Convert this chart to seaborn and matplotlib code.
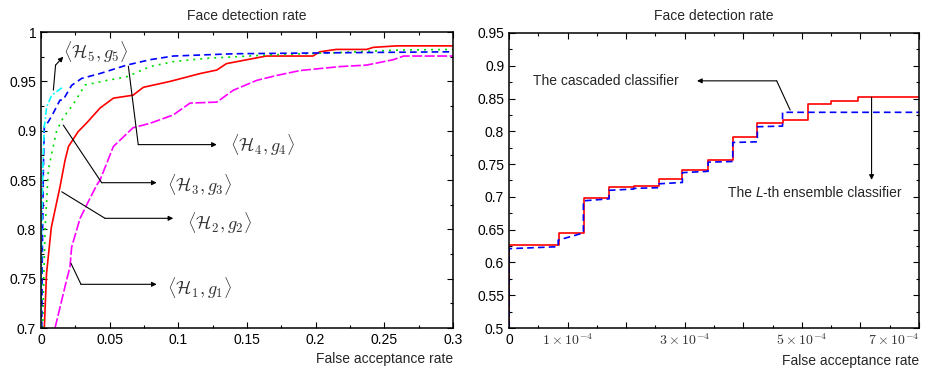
import matplotlib
matplotlib.use('Agg')
import matplotlib.pyplot as plt
import seaborn as sns
import pandas as pd
import numpy as np
from matplotlib.ticker import FixedLocator
from matplotlib.transforms import offset_copy

# left panel: ROC curves of the five stages
g1_x = [0.0102, 0.0187, 0.0211, 0.0223, 0.0284, 0.0344, 0.0406, 0.043, 0.0527, 0.067, 0.0794,
        0.0963, 0.1085, 0.128, 0.14, 0.157, 0.1716, 0.1886, 0.203, 0.2177, 0.237, 0.2566, 0.264, 0.3]
g1_y = [0.7, 0.749, 0.762, 0.782, 0.811, 0.828, 0.845, 0.85, 0.884, 0.903, 0.9075,
        0.916, 0.928, 0.929, 0.941, 0.951, 0.956, 0.961, 0.963, 0.965, 0.9665, 0.972, 0.9757, 0.9757]
g2_x = [0.0024, 0.004, 0.0075, 0.0138, 0.0175, 0.02, 0.027, 0.033, 0.043, 0.0527, 0.067, 0.0745,
        0.094, 0.116, 0.128, 0.135, 0.164, 0.198, 0.203, 0.215, 0.237, 0.242, 0.259, 0.3]
g2_y = [0.7, 0.755, 0.802, 0.843, 0.87, 0.884, 0.899, 0.9075, 0.923, 0.933, 0.936, 0.944,
        0.95, 0.958, 0.9615, 0.968, 0.9757, 0.9757, 0.98, 0.9824, 0.9824, 0.9845, 0.986, 0.986]
g3_x = [0.0012, 0.002, 0.003, 0.004, 0.0053, 0.0078, 0.0114, 0.0163, 0.0236, 0.032, 0.048,
        0.0624, 0.0794, 0.0963, 0.12, 0.164, 0.213, 0.261, 0.3]
g3_y = [0.7, 0.75, 0.801, 0.826, 0.86, 0.877, 0.9, 0.9135, 0.927, 0.9463, 0.951,
        0.9547, 0.965, 0.970, 0.9733, 0.9767, 0.979, 0.9818, 0.9824]
g4_x = [0.0005, 0.001, 0.0017, 0.0024, 0.0053, 0.009, 0.0138, 0.016, 0.0223, 0.0296, 0.043,
        0.0624, 0.0794, 0.0963, 0.14, 0.213, 0.3]
g4_y = [0.7, 0.78, 0.86, 0.904, 0.909, 0.918, 0.931, 0.931, 0.946, 0.953, 0.958,
        0.9665, 0.972, 0.9757, 0.978, 0.979, 0.980]
g5_x = [0.0, 0.0005, 0.0015, 0.0024, 0.0041, 0.0078, 0.0163]
g5_y = [0.7, 0.8, 0.87, 0.904, 0.9243, 0.936, 0.9446]

left_xticks = [0, 0.05, 0.1, 0.15, 0.2, 0.25, 0.3]
left_xlabels = ['0', '0.05', '0.1', '0.15', '0.2', '0.25', '0.3']
left_yticks = [0.7, 0.75, 0.8, 0.85, 0.9, 0.95, 1.0]
left_ylabels = ['0.7', '0.75', '0.8', '0.85', '0.9', '0.95', '1']

# right panel: ensemble vs cascade (x in units of 1e-4)
ens_x = [0, 0, 0.86, 1.28, 1.71, 2.13, 2.56, 2.96, 3.40, 3.82, 4.24, 4.67, 5.10, 5.50, 5.95, 7.0]
ens_y = [0.5, 0.627, 0.645, 0.698, 0.715, 0.717, 0.727, 0.741, 0.757, 0.791, 0.813, 0.817,
         0.842, 0.846, 0.852, 0.852]
cas_x = [0, 0, 0.84, 0.84, 1.27, 1.27, 1.71, 1.71, 2.13, 2.13, 2.56, 2.56, 2.96, 2.96, 3.40,
         3.40, 3.82, 3.82, 4.24, 4.24, 4.67, 4.67, 7.0]
cas_y = [0.5, 0.621, 0.624, 0.634, 0.645, 0.694, 0.697, 0.710, 0.712, 0.713, 0.714, 0.720,
         0.722, 0.737, 0.739, 0.753, 0.754, 0.783, 0.784, 0.807, 0.808, 0.829, 0.829]

right_xticks = [0, 1, 2, 3, 4, 5, 6, 7]
right_xlabels = ['0', r'$1\times10^{-4}$', '', r'$3\times10^{-4}$', '',
                 r'$5\times10^{-4}$', '', r'$7\times10^{-4}$']
right_yticks = [0.5, 0.55, 0.6, 0.65, 0.7, 0.75, 0.8, 0.85, 0.9, 0.95]
right_ylabels = ['0.5', '0.55', '0.6', '0.65', '0.7', '0.75', '0.8', '0.85', '0.9', '0.95']

sns.set_theme(style='ticks')
plt.rcParams['font.family'] = ['Liberation Sans', 'DejaVu Sans']
plt.rcParams['mathtext.fontset'] = 'cm'
plt.rcParams['axes.linewidth'] = 1.1
plt.rcParams['xtick.direction'] = 'in'
plt.rcParams['ytick.direction'] = 'in'

fig = plt.figure(figsize=(9.3, 3.69), dpi=100)
ax1 = fig.add_axes([0.0441, 0.1111, 0.443, 0.802])
ax2 = fig.add_axes([0.5473, 0.1111, 0.4409, 0.7995])


def style_axes(ax, xt, xl, yt, yl, xscale=1.0):
    xt = np.array(xt) * xscale
    ax.xaxis.set_major_locator(FixedLocator(xt))
    ax.xaxis.set_minor_locator(FixedLocator((xt[:-1] + xt[1:]) / 2))
    ax.yaxis.set_major_locator(FixedLocator(yt))
    ax.yaxis.set_minor_locator(FixedLocator((np.array(yt[:-1]) + np.array(yt[1:])) / 2))
    ax.set_xticklabels(xl)
    ax.set_yticklabels(yl)
    ax.set_xlim(xt[0], xt[-1])
    ax.set_ylim(yt[0], yt[-1])
    ax.tick_params(which='both', top=True, right=True, labelsize=10, colors='black', width=0.8)
    ax.tick_params(which='major', length=4)
    ax.tick_params(which='minor', length=2)
    for s in ax.spines.values():
        s.set_color('black')
    ax.set_title('Face detection rate', fontsize=10, pad=9)
    ax.set_xlabel('False acceptance rate', fontsize=10, loc='right', labelpad=4)
    ax.set_ylabel('')


lw = 1.2
curves = [
    (g1_x, g1_y, '#ff00ff', (6, 1.5)),
    (g2_x, g2_y, '#ff0000', None),
    (g3_x, g3_y, '#00dd00', (1.2, 3)),
    (g4_x, g4_y, '#0000ff', (4, 2.5)),
    (g5_x, g5_y, '#00ffff', (4, 1.5, 1, 1.5)),
]
for xs, ys, c, d in curves:
    df = pd.DataFrame({'x': xs, 'y': ys})
    sns.lineplot(data=df, x='x', y='y', ax=ax1, color=c, lw=lw, estimator=None, sort=False)
    if d is not None:
        ax1.lines[-1].set_dashes(d)

style_axes(ax1, left_xticks, left_xlabels, left_yticks, left_ylabels)

arrow_kw = dict(arrowstyle='-|>', color='black', lw=0.8, mutation_scale=7,
                shrinkA=0, shrinkB=0)
math_col = '#333333'
labels = [
    (r'$\langle\mathcal{H}_5, g_5\rangle$', [(0.009, 0.9412), (0.0106, 0.9665)], (0.0162, 0.975), (0.0162, 0.98)),
    (r'$\langle\mathcal{H}_4, g_4\rangle$', [(0.0636, 0.9654), (0.0708, 0.8859)], (0.128, 0.8859), (0.1376, 0.8855)),
    (r'$\langle\mathcal{H}_3, g_3\rangle$', [(0.0162, 0.9057), (0.0442, 0.8473)], (0.0842, 0.8473), (0.0915, 0.845)),
    (r'$\langle\mathcal{H}_2, g_2\rangle$', [(0.0151, 0.8381), (0.0466, 0.8112)], (0.0963, 0.8112), (0.1061, 0.8064)),
    (r'$\langle\mathcal{H}_1, g_1\rangle$', [(0.0218, 0.7656), (0.0291, 0.7443)], (0.0842, 0.7443), (0.0915, 0.7405)),
]
for txt, pts, tip, tpos in labels:
    ax1.plot([p[0] for p in pts], [p[1] for p in pts], color='black', lw=0.8)
    ax1.annotate('', xy=tip, xytext=pts[-1], arrowprops=arrow_kw)
    ax1.text(tpos[0], tpos[1], txt, fontsize=13, color=math_col, ha='left', va='center')

# right panel
ens = pd.DataFrame({'x': np.array(ens_x) * 1e-4, 'y': ens_y})
cas = pd.DataFrame({'x': np.array(cas_x) * 1e-4, 'y': cas_y})
sns.lineplot(data=ens, x='x', y='y', ax=ax2, color='#ff0000', lw=lw,
             estimator=None, sort=False, drawstyle='steps-post')
sns.lineplot(data=cas, x='x', y='y', ax=ax2, color='#0000ff', lw=lw,
             estimator=None, sort=False)
ax2.lines[-1].set_dashes((4, 2.5))

style_axes(ax2, right_xticks, right_xlabels, right_yticks, right_ylabels, xscale=1e-4)
for t in ax2.get_xticklabels()[1:]:
    t.set_color(math_col)
ax2.get_xticklabels()[-1].set_ha('right')

ax2.plot([4.8e-4, 4.57e-4], [0.8325, 0.877], color='black', lw=0.8)
ax2.annotate('', xy=(3.21e-4, 0.877), xytext=(4.57e-4, 0.877), arrowprops=arrow_kw)
ax2.text(0.41e-4, 0.8768, 'The cascaded classifier', fontsize=10, ha='left', va='center')
ax2.annotate('', xy=(6.19e-4, 0.726), xytext=(6.19e-4, 0.852), arrowprops=arrow_kw)

# "The L-th ensemble classifier" with italic L, built right to left
fig.canvas.draw()
renderer = fig.canvas.get_renderer()
t3 = ax2.text(6.71e-4, 0.70, '-th ensemble classifier', fontsize=10, ha='right', va='baseline')
w3 = t3.get_window_extent(renderer).width
t2 = ax2.text(6.71e-4, 0.70, 'L', fontsize=10, ha='right', va='baseline', style='italic',
              transform=offset_copy(ax2.transData, fig=fig, x=-w3, units='dots'))
w2 = t2.get_window_extent(renderer).width
ax2.text(6.71e-4, 0.70, 'The ', fontsize=10, ha='right', va='baseline',
         transform=offset_copy(ax2.transData, fig=fig, x=-(w3 + w2), units='dots'))

plt.savefig('out.png', dpi=100)
